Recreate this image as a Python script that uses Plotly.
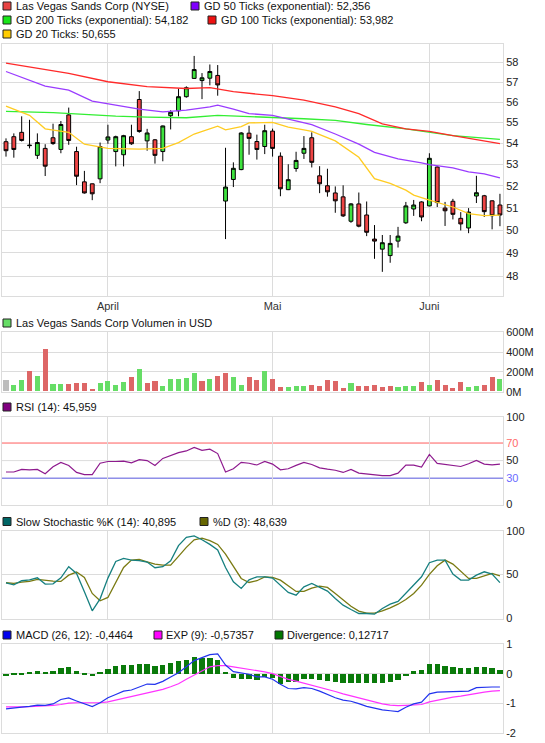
import plotly.graph_objects as go
import pandas as pd
import math

# ---------------- data ----------------
holidays = ["2015-04-03", "2015-05-25"]
dates = [d.strftime("%Y-%m-%d") for d in pd.bdate_range("2015-03-13", "2015-06-12")
         if d.strftime("%Y-%m-%d") not in holidays]
month_dates = ["2015-04-01", "2015-05-01", "2015-06-01"]
month_labels = ["April", "Mai", "Juni"]

open_ = [54.07, 54.31, 54.52, 53.88, 53.42, 53.75, 54.26, 53.70, 55.37, 53.60,
         52.18, 52.09, 52.32, 54.15, 53.60, 53.45, 54.31, 56.13, 54.11, 54.16,
         53.60, 55.33, 55.57, 56.27, 57.19, 57.08, 57.20, 57.34, 51.30, 52.29,
         52.75, 54.48, 54.08, 53.84, 54.58, 53.38, 51.82, 52.80, 53.52, 54.26,
         52.46, 52.00, 51.67, 51.49, 50.39, 51.17, 50.67, 49.60, 49.16, 48.88,
         49.51, 50.32, 50.94, 51.26, 51.08, 52.87, 50.98, 51.29, 50.52, 50.09,
         51.53, 51.54, 51.31, 51.12]
high = [54.23, 54.47, 55.30, 55.13, 54.47, 53.95, 54.94, 55.07, 55.73, 53.83,
        52.69, 52.10, 54.03, 54.89, 54.36, 54.40, 54.89, 56.55, 54.69, 54.20,
        54.85, 55.60, 56.67, 56.79, 58.34, 57.46, 57.90, 57.87, 53.78, 53.09,
        54.53, 54.84, 54.41, 54.89, 54.70, 53.56, 53.00, 53.59, 54.34, 54.52,
        52.91, 52.79, 51.97, 52.02, 51.21, 51.69, 51.28, 50.22, 49.78, 49.78,
        50.14, 51.26, 51.35, 51.29, 53.52, 52.90, 51.26, 51.40, 50.80, 50.98,
        52.46, 51.58, 51.33, 51.63]
low = [53.36, 53.31, 54.08, 53.75, 53.25, 52.45, 53.92, 53.52, 53.92, 52.03,
       51.64, 51.34, 52.12, 53.97, 52.90, 52.90, 53.92, 54.50, 53.64, 53.03,
       53.14, 54.66, 55.30, 56.22, 57.17, 56.15, 56.84, 56.32, 49.60, 51.94,
       52.72, 53.45, 53.22, 53.48, 53.36, 51.52, 51.80, 52.65, 53.25, 52.85,
       51.66, 51.50, 50.77, 50.58, 50.32, 50.12, 49.73, 48.74, 48.18, 48.57,
       49.23, 50.27, 50.63, 50.39, 51.06, 51.03, 50.18, 50.47, 49.98, 49.86,
       51.21, 50.58, 50.03, 50.17]
close = [53.64, 53.70, 54.13, 53.90, 54.03, 52.91, 53.98, 54.90, 54.13, 52.44,
         51.67, 51.63, 53.84, 54.30, 54.31, 54.36, 53.97, 54.56, 54.49, 53.42,
         54.83, 55.50, 56.27, 56.72, 57.64, 57.22, 57.54, 56.86, 51.94, 52.81,
         54.49, 54.23, 53.70, 54.60, 53.75, 51.86, 52.28, 53.18, 53.75, 53.09,
         52.09, 51.72, 51.31, 50.63, 51.17, 50.17, 49.90, 49.51, 49.44, 49.41,
         49.73, 51.08, 51.12, 50.58, 53.28, 51.23, 50.86, 50.70, 50.27, 50.80,
         51.68, 50.82, 50.64, 50.67]

# moving averages read at selected candle positions
gd20_idx = [0, 3, 5, 8, 10, 13, 17, 20, 22, 24, 27, 28, 30, 31, 34, 36, 38, 39, 42, 45,
            47, 49, 51, 52, 54, 57, 59, 61, 63]
gd20_val = [55.80, 55.35, 54.69, 54.52, 53.95, 53.75, 53.72, 53.75, 54.03, 54.44,
            54.82, 54.64, 54.80, 54.98, 55.00, 54.77, 54.64, 54.57, 54.11, 53.33,
            52.33, 52.11, 51.80, 51.57, 51.34, 51.03, 50.73, 50.64, 50.66]
gd50_idx = [0, 5, 8, 11, 14, 17, 20, 23, 26, 27, 29, 31, 34, 37, 39, 42, 45, 47, 50, 53,
            54, 57, 59, 61, 63]
gd50_val = [57.54, 56.80, 56.60, 56.05, 55.85, 55.65, 55.52, 55.60, 55.77, 55.85,
            55.65, 55.43, 55.35, 55.07, 54.89, 54.44, 53.95, 53.56, 53.25, 53.06,
            52.98, 52.83, 52.64, 52.55, 52.36]
gd100_idx = [0, 8, 13, 18, 23, 26, 29, 34, 38, 42, 45, 48, 51, 54, 57, 63]
gd100_val = [57.97, 57.45, 57.02, 56.77, 56.68, 56.72, 56.52, 56.32, 56.10, 55.77,
             55.43, 54.93, 54.69, 54.57, 54.36, 53.98]
gd200_idx = [0, 6, 10, 14, 18, 23, 27, 31, 34, 38, 42, 46, 51, 54, 57, 63]
gd200_val = [55.54, 55.48, 55.40, 55.31, 55.26, 55.23, 55.35, 55.30, 55.26, 55.18,
             55.10, 54.90, 54.69, 54.52, 54.36, 54.18]

volume_m = [117, 67, 117, 207, 157, 427, 77, 77, 77, 87,
            87, 27, 87, 107, 67, 97, 147, 227, 87, 107,
            57, 127, 127, 137, 187, 107, 127, 157, 187, 147,
            67, 147, 117, 207, 127, 47, 47, 57, 57, 67,
            57, 117, 107, 37, 87, 57, 57, 67, 47, 57,
            47, 57, 57, 97, 67, 117, 67, 37, 97, 47,
            57, 67, 147, 127]

rsi = [37, 37, 40, 39.5, 40, 35, 43, 48, 44.5, 36.5,
       34, 34, 47, 49, 49, 49.4, 47.5, 51, 50, 44.5,
       52.5, 55.5, 59, 61, 65, 61.6, 63, 58, 37, 40.7,
       48, 47, 45, 49, 46, 39.5, 40.7, 44.5, 48, 45.6,
       41.8, 40.3, 39, 36.5, 40, 35.7, 34.6, 33.8, 33, 33,
       35.7, 44.9, 44.9, 42.6, 57, 46.8, 45.6, 45.2, 43.3, 46.4,
       50.2, 46, 45.2, 45.96]

stoch_k = [40.7, 38.4, 43, 44, 46.4, 39.2, 39.5, 46.4, 59, 51.3,
           30.4, 8.7, 22.4, 46, 65, 68.4, 66.5, 66, 64.3, 57.8,
           59, 65.8, 83, 92.4, 94, 89.7, 84.4, 78, 58, 41.8,
           34.2, 44, 47.5, 47.5, 46, 38, 29.7, 26.6, 36, 40,
           35.7, 31.2, 22.8, 15.2, 10.3, 5.7, 5.7, 4.9, 11.4, 16.3,
           19.4, 28.5, 38, 47.5, 63.5, 66.5, 66.5, 50.6, 43.7, 43.7,
           49.4, 53.2, 50.6, 40.9]
stoch_d = [40.7, 40, 41.4, 42.2, 44.5, 43.3, 42.6, 42.2, 49.4, 52.9,
           46.8, 28.5, 20.2, 24, 41.8, 58.2, 66.5, 67.3, 64.6, 62,
           60.8, 60.8, 70.7, 81, 89.7, 91.6, 88.6, 84.4, 73.4, 59,
           45.6, 41, 43, 47.5, 46.8, 43.7, 36.9, 30.8, 30.8, 34.6,
           36.9, 35.4, 28.5, 20.9, 14, 8.4, 6.1, 6.1, 8.7, 12.2,
           16.3, 21.7, 28.5, 38, 50.2, 60, 66.5, 62, 54, 45.6,
           45.6, 48.3, 51.3, 48.64]

macd = [-1.19, -1.15, -1.13, -1.10, -1.06, -1.07, -1.02, -0.87, -0.82, -0.92,
        -1.02, -1.11, -0.98, -0.81, -0.70, -0.59, -0.55, -0.45, -0.35, -0.36,
        -0.26, -0.11, 0.03, 0.23, 0.44, 0.54, 0.64, 0.67, 0.29, 0.07,
        0.03, -0.02, -0.11, -0.11, -0.19, -0.36, -0.50, -0.51, -0.47, -0.50,
        -0.59, -0.70, -0.81, -0.89, -0.93, -1.01, -1.10, -1.16, -1.22, -1.25,
        -1.28, -1.13, -1.02, -0.96, -0.68, -0.62, -0.61, -0.61, -0.61, -0.59,
        -0.47, -0.45, -0.45, -0.45]
exp9 = [-1.12, -1.13, -1.12, -1.11, -1.10, -1.10, -1.07, -1.04, -0.99, -0.98,
        -0.98, -1.00, -0.98, -0.95, -0.89, -0.84, -0.78, -0.71, -0.64, -0.59,
        -0.53, -0.44, -0.34, -0.19, -0.05, 0.10, 0.23, 0.27, 0.27, 0.23,
        0.19, 0.16, 0.10, 0.06, 0.00, -0.10, -0.19, -0.25, -0.32, -0.37,
        -0.45, -0.53, -0.60, -0.68, -0.75, -0.81, -0.88, -0.96, -1.02, -1.06,
        -1.08, -1.07, -1.06, -1.04, -0.95, -0.89, -0.84, -0.79, -0.76, -0.71,
        -0.67, -0.62, -0.59, -0.57]
divergence = [-0.07, -0.04, -0.02, 0.04, 0.08, 0.04, 0.08, 0.19, 0.22, 0.08,
              -0.05, -0.08, 0.04, 0.15, 0.25, 0.28, 0.28, 0.32, 0.32, 0.25,
              0.28, 0.35, 0.42, 0.45, 0.55, 0.52, 0.52, 0.45, 0.04, -0.15,
              -0.18, -0.18, -0.21, -0.11, -0.16, -0.35, -0.28, -0.28, -0.18, -0.18,
              -0.23, -0.25, -0.29, -0.32, -0.32, -0.32, -0.32, -0.32, -0.32, -0.28,
              -0.21, -0.08, 0.08, 0.11, 0.32, 0.32, 0.25, 0.21, 0.18, 0.18,
              0.21, 0.21, 0.18, 0.13]

price_ticks = [48, 49, 50, 51, 52, 53, 54, 55, 56, 57, 58]
volume_ticks = [0, 200, 400, 600]
volume_tick_labels = ["0M", "200M", "400M", "600M"]
rsi_ticks = [0, 30, 50, 70, 100]
stoch_ticks = [0, 50, 100]
macd_ticks = [-2, -1, 0, 1]

# ---------------- figure ----------------
W, H = 545, 743
x = list(range(len(dates)))
month_idx = [dates.index(d) for d in month_dates]


def py(p):
    return 1 - p / H


def px(p):
    return p / W


FONT = "Liberation Sans, Arial, sans-serif"
GRID = "#dcdcdc"
XDOM = [px(2), px(503)]
XR = [-0.51, 63.39]

vol_colors = ["#bdbdbd"] + ["#66dd66" if close[i] >= close[i - 1] else "#dd6666"
                            for i in range(1, len(close))]

fig = go.Figure()

fig.add_trace(go.Candlestick(
    x=x, open=open_, high=high, low=low, close=close,
    increasing=dict(line=dict(color="#000000", width=1), fillcolor="#3ee33e"),
    decreasing=dict(line=dict(color="#000000", width=1), fillcolor="#ee4444"),
    whiskerwidth=0, xaxis="x", yaxis="y", showlegend=False, hoverinfo="skip"))
for idx, val, col in [(gd200_idx, gd200_val, "#33ee33"), (gd100_idx, gd100_val, "#ff2a2a"),
                      (gd50_idx, gd50_val, "#9a3cff"), (gd20_idx, gd20_val, "#ffcc22")]:
    fig.add_trace(go.Scatter(x=idx, y=val, mode="lines", line=dict(color=col, width=1.3),
                             xaxis="x", yaxis="y", showlegend=False, hoverinfo="skip"))

fig.add_trace(go.Bar(x=x, y=[v * 1e6 for v in volume_m], marker=dict(color=vol_colors, line=dict(width=0)),
                     width=0.65, xaxis="x2", yaxis="y2", showlegend=False, hoverinfo="skip"))

fig.add_trace(go.Scatter(x=x, y=rsi, mode="lines", line=dict(color="#8e1a8e", width=1.2),
                         xaxis="x3", yaxis="y3", showlegend=False, hoverinfo="skip"))

fig.add_trace(go.Scatter(x=x, y=stoch_d, mode="lines", line=dict(color="#7a7a12", width=1.3),
                         xaxis="x4", yaxis="y4", showlegend=False, hoverinfo="skip"))
fig.add_trace(go.Scatter(x=x, y=stoch_k, mode="lines", line=dict(color="#178080", width=1.3),
                         xaxis="x4", yaxis="y4", showlegend=False, hoverinfo="skip"))

fig.add_trace(go.Bar(x=x, y=divergence, marker=dict(color="#0a7a0a", line=dict(width=0)), width=0.68,
                     xaxis="x5", yaxis="y5", showlegend=False, hoverinfo="skip"))
fig.add_trace(go.Scatter(x=x, y=exp9, mode="lines", line=dict(color="#ff33ff", width=1.2),
                         xaxis="x5", yaxis="y5", showlegend=False, hoverinfo="skip"))
fig.add_trace(go.Scatter(x=x, y=macd, mode="lines", line=dict(color="#2233ee", width=1.2),
                         xaxis="x5", yaxis="y5", showlegend=False, hoverinfo="skip"))


def xaxis(anchor, show):
    return dict(domain=XDOM, range=XR, anchor=anchor, tickmode="array", tickvals=month_idx,
                ticktext=month_labels, showticklabels=show, ticks="", showgrid=True,
                gridcolor=GRID, gridwidth=1, showline=True, linecolor=GRID, mirror=True,
                zeroline=False, fixedrange=True, rangeslider=dict(visible=False),
                tickfont=dict(size=11, color="#333333", family=FONT))


def yaxis(anchor, dom, rng, vals, texts, typ="linear", grid=GRID):
    return dict(domain=dom, range=rng, anchor=anchor, side="right", type=typ, tickmode="array",
                tickvals=vals, ticktext=texts, ticks="", showgrid=True, gridcolor=grid, gridwidth=1,
                showline=True, linecolor=GRID, mirror=True, zeroline=False, fixedrange=True,
                automargin=False, tickfont=dict(size=11, color="#222222", family=FONT))


rsi_text = ["0", "<span style='color:#6a6aff'>30</span>", "50",
            "<span style='color:#ff6a6a'>70</span>", "100"]

fig.update_layout(
    width=W, height=H, margin=dict(l=0, r=0, t=0, b=0, pad=0),
    paper_bgcolor="white", plot_bgcolor="white", bargap=0, showlegend=False,
    font=dict(family=FONT, size=11, color="#222222"),
    xaxis=xaxis("y", True), xaxis2=xaxis("y2", False), xaxis3=xaxis("y3", False),
    xaxis4=xaxis("y4", False), xaxis5=xaxis("y5", False),
    yaxis=yaxis("x", [py(296), py(44)], [math.log10(47.16), math.log10(58.96)],
                price_ticks, [str(v) for v in price_ticks], "log"),
    yaxis2=yaxis("x2", [py(391.7), py(332.3)], [0, 600e6], [v * 1e6 for v in volume_ticks],
                 volume_tick_labels),
    yaxis3=yaxis("x3", [py(504.5), py(416.7)], [0, 100], rsi_ticks, rsi_text,
                 grid="rgba(0,0,0,0)"),
    yaxis4=yaxis("x4", [py(618.5), py(530.7)], [0, 100], stoch_ticks, [str(v) for v in stoch_ticks]),
    yaxis5=yaxis("x5", [py(733), py(644)], [-2, 1], macd_ticks, [str(v) for v in macd_ticks]),
)

shapes = [
    dict(type="line", xref="x3 domain", yref="y3", x0=0, x1=1, y0=50, y1=50,
         line=dict(color=GRID, width=1), layer="below"),
    dict(type="line", xref="x3 domain", yref="y3", x0=0, x1=1, y0=70, y1=70,
         line=dict(color="#ff5c5c", width=1), layer="below"),
    dict(type="line", xref="x3 domain", yref="y3", x0=0, x1=1, y0=30, y1=30,
         line=dict(color="#5555dd", width=1), layer="below"),
]

legend_items = [
    (3, 14.5, 6, "#e84343", "Las Vegas Sands Corp (NYSE)"),
    (191, 203, 6, "#7f00ff", "GD 50 Ticks (exponential): 52,356"),
    (3, 14.5, 20, "#19e619", "GD 200 Ticks (exponential): 54,182"),
    (208, 220, 20, "#ee1111", "GD 100 Ticks (exponential): 53,982"),
    (3, 14.5, 34, "#ffcc00", "GD 20 Ticks: 50,655"),
    (3, 14.5, 323, "#66dd66", "Las Vegas Sands Corp Volumen in USD"),
    (3, 14.5, 407, "#800080", "RSI (14): 45,959"),
    (3, 14.5, 521.5, "#006666", "Slow Stochastic %K (14): 40,895"),
    (200, 212, 521.5, "#666600", "%D (3): 48,639"),
    (3, 14.5, 635, "#0000ee", "MACD (26, 12): -0,4464"),
    (154, 165, 635, "#ff00ff", "EXP (9): -0,57357"),
    (275, 286, 635, "#007700", "Divergence: 0,12717"),
]
annotations = []
for bx, tx, ty, col, label in legend_items:
    shapes.append(dict(type="rect", xref="paper", yref="paper", x0=px(bx), x1=px(bx + 8),
                       y0=py(ty + 4), y1=py(ty - 4), fillcolor=col,
                       line=dict(color="#222222", width=1), layer="above"))
    annotations.append(dict(x=px(tx), y=py(ty), xref="paper", yref="paper", text=label,
                            showarrow=False, xanchor="left", yanchor="middle", borderpad=0,
                            font=dict(size=11, color="#111111", family=FONT)))

fig.update_layout(shapes=shapes, annotations=annotations)
fig.write_html("out.html", config={"displayModeBar": False},
               post_script="document.body.style.margin='0';document.body.style.padding='0';")
